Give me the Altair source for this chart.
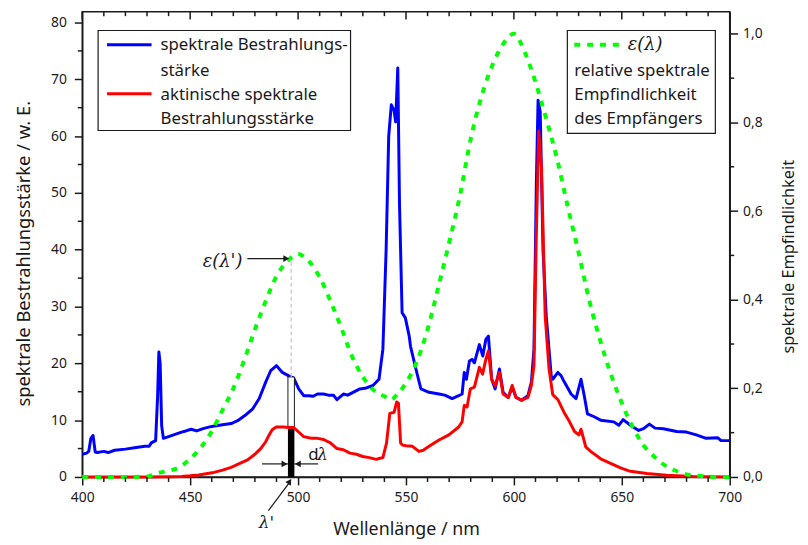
import altair as alt
import numpy as np
import pandas as pd

# ---------------- data ----------------
blue_wl = [400, 402, 403, 404, 405, 406, 407, 410, 412, 415,
           420, 425, 429, 431, 432, 434, 434.9, 435.5, 436.1, 436.8, 437.6,
           440, 443, 446, 448, 450.5, 453, 456, 460, 465,
           469, 472, 476, 479, 482, 485, 487.3, 490, 492.7, 495.7,
           498, 500.3, 502.6, 505, 507, 509, 511.8, 514, 516.4, 518,
           521, 523, 525.5, 528.6, 531, 534.7, 537.5, 539.3, 540.8, 542,
           543.2, 544.5, 545.2, 546.2, 547, 548.2, 549.7, 551.5, 552.1, 554.6,
           556.9, 560.7, 565.3, 568, 571.4, 574.4, 576, 577, 578, 579.4,
           580.6, 581.7, 584, 585.6, 587, 588.2, 589.7, 591.3, 593.3, 595,
           597.4, 599.2, 601, 603.5, 606.5, 608.1, 609.3, 610.4, 611.2, 612.2,
           613.5, 615, 617.3, 618, 620.4, 621.9, 623.4, 626.5, 628.8, 631.1,
           632.6, 634.1, 637.2, 640.2, 646.3, 648.6, 650.6, 654, 657.8, 660.1,
           662.8, 665.4, 669.3, 675.4, 680, 684.5, 689.1, 694.5, 696, 700]
blue_val = [4.0, 4.2, 4.5, 6.8, 7.3, 4.4, 4.3, 4.5, 4.3, 4.7,
            4.9, 5.2, 5.4, 5.4, 6.0, 6.4, 14.0, 22.0, 20.0, 9.0, 6.8,
            7.1, 7.5, 7.9, 8.1, 8.4, 8.1, 8.5, 8.9, 9.2,
            9.4, 9.9, 11.0, 12.0, 13.8, 16.7, 18.7, 19.6, 18.4, 17.8,
            17.4, 15.5, 14.3, 14.3, 14.2, 14.6, 14.6, 14.4, 14.4, 13.6,
            14.6, 14.4, 14.9, 15.5, 15.6, 16.1, 17.2, 22.5, 40.0, 60.0,
            65.5, 64.5, 62.5, 72.0, 48.0, 28.9, 28.0, 24.8, 23.0, 19.0,
            15.5, 14.9, 14.6, 14.4, 13.8, 14.3, 14.6, 18.4, 17.2, 20.4,
            20.7, 20.1, 23.3, 21.3, 24.2, 24.8, 17.2, 15.5, 19.0, 14.9,
            14.0, 15.8, 14.0, 13.5, 14.3, 16.7, 22.5, 51.5, 66.3, 64.3,
            39.9, 28.3, 17.8, 17.2, 18.4, 17.8, 16.7, 14.6, 13.8, 17.2,
            14.3, 11.1, 10.6, 10.0, 9.7, 9.1, 10.1, 9.1, 8.2, 8.5,
            9.3, 8.6, 8.5, 8.0, 7.9, 7.4, 6.8, 6.9, 6.4, 6.4]

red_wl = [400, 430, 440, 446, 450, 454, 458, 461, 465, 469,
          472, 476.6, 480, 482.7, 485, 486.6, 488, 489.9, 493, 496,
          498, 500, 502.6, 504, 506.4, 509, 511.8, 515, 518, 521,
          524, 527, 530, 533, 536.2, 538, 539.3, 541, 542.5, 544.5,
          545.7, 546.5, 547.5, 548.5, 550, 553, 556, 558, 560.7, 565.3,
          569.9, 574.4, 576, 577, 578.3, 579.8, 581.7, 584, 585.5, 587,
          588.2, 589.7, 591.3, 593.3, 595, 597.4, 599.2, 601, 603.5, 606.5,
          608.1, 609.3, 610.4, 611.5, 612.8, 614.5, 616.3, 618, 620.4, 623.2,
          625.8, 628.1, 630.1, 631.1, 633.3, 635.6, 640.2, 644.8, 649.4, 654,
          661.6, 670.8, 683, 700]
red_val = [0.0, 0.0, 0.05, 0.1, 0.2, 0.35, 0.6, 0.8, 1.2, 1.7,
           2.2, 3.0, 4.0, 5.0, 6.2, 7.4, 8.3, 8.8, 8.8, 8.7,
           8.7, 8.0, 7.1, 7.0, 6.8, 6.8, 6.6, 6.0, 5.0, 4.8,
           4.2, 4.0, 3.6, 3.4, 3.1, 3.3, 3.4, 6.0, 11.2, 11.4,
           13.2, 13.0, 6.0, 5.6, 5.5, 5.4, 4.5, 4.7, 5.4, 6.5,
           7.4, 8.8, 9.7, 12.6, 12.3, 15.5, 15.8, 19.3, 18.1, 20.7,
           22.2, 17.2, 16.1, 18.4, 14.6, 14.0, 16.1, 14.0, 13.5, 14.0,
           16.1, 19.6, 42.8, 60.8, 54.4, 28.3, 19.0, 14.5, 13.6, 11.4,
           9.7, 8.0, 7.4, 8.4, 5.3, 4.5, 3.2, 2.4, 1.6, 1.0,
           0.6, 0.3, 0.1, 0.0]

eps_wl = [400, 410, 420, 430, 435, 440, 445, 450, 455, 460,
          465, 470, 475, 480, 485, 490, 495, 500, 505, 510,
          515, 520, 525, 530, 535, 540, 543, 546, 550, 555,
          560, 565, 570, 575, 580, 585, 590, 595, 600, 605,
          610, 615, 620, 625, 630, 635, 640, 645, 650, 655,
          660, 665, 670, 675, 680, 685, 690, 695, 700]
eps_val = [0.0, 0.0, 0.0, 0.001, 0.009, 0.014, 0.022, 0.041, 0.067, 0.103,
           0.151, 0.200, 0.263, 0.333, 0.397, 0.453, 0.487, 0.503, 0.487, 0.451,
           0.397, 0.337, 0.272, 0.226, 0.196, 0.182, 0.174, 0.187, 0.212, 0.260,
           0.333, 0.429, 0.529, 0.635, 0.763, 0.859, 0.929, 0.977, 1.0, 0.959,
           0.891, 0.808, 0.718, 0.609, 0.506, 0.397, 0.308, 0.231, 0.167, 0.113,
           0.072, 0.046, 0.026, 0.014, 0.006, 0.003, 0.001, 0.0, 0.0]

x_major = [400, 450, 500, 550, 600, 650, 700]
x_minor = [t for t in range(400, 701, 10) if t not in x_major]
yl_major = [0, 10, 20, 30, 40, 50, 60, 70, 80]
yl_minor = [5, 15, 25, 35, 45, 55, 65, 75]
yr_major = [0.0, 0.2, 0.4, 0.6, 0.8, 1.0]
yr_minor = [0.1, 0.3, 0.5, 0.7, 0.9]

legend_left = ["spektrale Bestrahlungs-", "stärke", "aktinische spektrale", "Bestrahlungsstärke"]
legend_right = ["relative spektrale", "Empfindlichkeit", "des Empfängers"]

LAM_P = 496.8      # lambda'
D_LAM = 3.0        # d lambda
# ---------------------------------------------------------------

FONT = "Noto Sans"
MATH = "DejaVu Serif"
INK = "#1a1a1a"
BLUE = "#0000ff"
RED = "#ff0000"
GREEN = "#00ff00"

W, H = 654, 470
Y_MAX = 81.9
R_MAX = 1.05
RATIO = Y_MAX / R_MAX

x_scale = alt.Scale(domain=[400, 700], nice=False, zero=False)
yl_scale = alt.Scale(domain=[0, Y_MAX], nice=False)
yr_scale = alt.Scale(domain=[0, R_MAX], nice=False)

df_blue = pd.DataFrame({"wl": blue_wl, "v": blue_val})
df_red = pd.DataFrame({"wl": red_wl, "v": red_val})
df_eps = pd.DataFrame({"wl": eps_wl, "e": eps_val})

blue_at = float(np.interp(LAM_P, blue_wl, blue_val))
red_at = float(np.interp(LAM_P, red_wl, red_val))
eps_at = float(np.interp(LAM_P, eps_wl, eps_val))

ann = pd.DataFrame({
    "lam": [LAM_P], "lo": [LAM_P - D_LAM / 2], "hi": [LAM_P + D_LAM / 2],
    "zero": [0.0], "blue": [blue_at], "red": [red_at], "eps": [eps_at],
    "eps_left": [eps_at * RATIO],
    "al": [LAM_P - D_LAM / 2 - 12], "ar": [LAM_P + D_LAM / 2 + 11], "dly": [2.3],
    "ea": [476.5],
})
one = pd.DataFrame({"k": [0]})

# the same x axis definition is given to every layer so the shared axis merges cleanly
x_axis = alt.Axis(
    orient="bottom", title="Wellenlänge / nm", values=x_major, tickSize=8,
    labelPadding=6, labelOverlap=False, labelFlush=False,
    titleX=W / 2, titleY=53, titleBaseline="middle", titleAlign="center",
    titleFontSize=18,
)
yl_axis = alt.Axis(
    orient="left", title="spektrale Bestrahlungsstärke / w. E.", values=yl_major, tickSize=8,
    labelPadding=8, labelOverlap=False, labelFlush=False,
    titleX=-59, titleY=244, titleAngle=270, titleBaseline="middle", titleAlign="center",
    titleFontSize=18.5,
)
yr_axis = alt.Axis(
    orient="right", title="spektrale Empfindlichkeit", values=yr_major, tickSize=8,
    labelExpr="replace(format(datum.value, '.1f'), '.', ',')",
    labelPadding=5, labelOverlap=False, labelFlush=False,
    titleX=59, titleY=247, titleAngle=270, titleBaseline="middle", titleAlign="center",
    titleFontSize=16.5,
)


def X(f):
    return alt.X(f, scale=x_scale, axis=x_axis)


def YL(f):
    return alt.Y(f, scale=yl_scale, axis=None)


def YR(f):
    return alt.Y(f, scale=yr_scale, axis=None)


def txt(s, x, y, font=FONT, size=17, style="normal", align="left"):
    return alt.Chart(one).mark_text(
        font=font, fontSize=size, fontStyle=style, align=align,
        baseline="middle", color=INK,
    ).encode(x=alt.value(x), y=alt.value(y), text=alt.value(s))


# ----- main series -----
blue_line = alt.Chart(df_blue).mark_line(color=BLUE, strokeWidth=3, strokeJoin="round").encode(
    x=X("wl:Q"), y=alt.Y("v:Q", scale=yl_scale, axis=yl_axis))
red_line = alt.Chart(df_red).mark_line(color=RED, strokeWidth=3, strokeJoin="round").encode(
    x=X("wl:Q"), y=YL("v:Q"))
eps_line = alt.Chart(df_eps).mark_line(color=GREEN, strokeWidth=4, strokeDash=[6, 7],
                                       interpolate="monotone").encode(
    x=X("wl:Q"), y=alt.Y("e:Q", scale=yr_scale, axis=yr_axis))

# ----- bar at lambda' and its annotations -----
bar_black = alt.Chart(ann).mark_rect(color="black").encode(
    x=X("lo:Q"), x2="hi:Q", y=YL("zero:Q"), y2="red:Q")
bar_white = alt.Chart(ann).mark_rect(fill="white", stroke=INK, strokeWidth=1).encode(
    x=X("lo:Q"), x2="hi:Q", y=YL("red:Q"), y2="blue:Q")
dashed = alt.Chart(ann).mark_rule(color="#c4c4c4", strokeWidth=1.2, strokeDash=[4, 3]).encode(
    x=X("lam:Q"), y=YL("blue:Q"), y2="eps_left:Q")

dl_left = alt.Chart(ann).mark_rule(color=INK, strokeWidth=1.2).encode(
    x=X("al:Q"), x2="lo:Q", y=YL("dly:Q"))
dl_right = alt.Chart(ann).mark_rule(color=INK, strokeWidth=1.2).encode(
    x=X("hi:Q"), x2="ar:Q", y=YL("dly:Q"))
dl_head_l = alt.Chart(ann).mark_point(shape="triangle-right", filled=True, size=45, color=INK,
                                      opacity=1, xOffset=-3.5).encode(x=X("lo:Q"), y=YL("dly:Q"))
dl_head_r = alt.Chart(ann).mark_point(shape="triangle-left", filled=True, size=45, color=INK,
                                      opacity=1, xOffset=3.5).encode(x=X("hi:Q"), y=YL("dly:Q"))
dl_d = alt.Chart(ann).mark_text(font=FONT, fontSize=17, align="left", baseline="middle",
                                color=INK, dx=14, dy=-9).encode(
    x=X("hi:Q"), y=YL("dly:Q"), text=alt.value("d"))
dl_l = alt.Chart(ann).mark_text(font=MATH, fontSize=17, fontStyle="italic", align="left",
                                baseline="middle", color=INK, dx=23, dy=-9).encode(
    x=X("hi:Q"), y=YL("dly:Q"), text=alt.value("λ"))

lp_arrow = alt.Chart(ann).mark_rule(color=INK, strokeWidth=1.2, xOffset=-23, yOffset=34,
                                    x2Offset=-2, y2Offset=6).encode(
    x=X("lam:Q"), x2="lam:Q", y=YL("zero:Q"), y2="zero:Q")
lp_head = alt.Chart(ann).mark_point(shape="triangle-up", filled=True, size=45, color=INK,
                                    opacity=1, angle=34, xOffset=-1.5, yOffset=4.5).encode(
    x=X("lam:Q"), y=YL("zero:Q"))
lp_text = alt.Chart(ann).mark_text(font=MATH, fontSize=17, fontStyle="italic", align="center",
                                   baseline="middle", color=INK, dx=-25, dy=47).encode(
    x=X("lam:Q"), y=YL("zero:Q"), text=alt.value("λ'"))

eps_arrow = alt.Chart(ann).mark_rule(color=INK, strokeWidth=1.2, x2Offset=-6).encode(
    x=X("ea:Q"), x2="lam:Q", y=YR("eps:Q"))
eps_head = alt.Chart(ann).mark_point(shape="triangle-right", filled=True, size=45, color=INK,
                                     opacity=1, xOffset=-5).encode(x=X("lam:Q"), y=YR("eps:Q"))
eps_text = alt.Chart(ann).mark_text(font=MATH, fontSize=18, fontStyle="italic", align="right",
                                    baseline="middle", color=INK, dx=-5, dy=3).encode(
    x=X("ea:Q"), y=YR("eps:Q"), text=alt.value("ε(λ')"))

# ----- minor ticks and the inward ticks of the top frame -----
tick_style = dict(color=INK, strokeWidth=1.5)
top_major = alt.Chart(pd.DataFrame({"t": x_major})).mark_rule(**tick_style).encode(
    x=X("t:Q"), y=alt.value(0), y2=alt.value(8))
top_minor = alt.Chart(pd.DataFrame({"t": x_minor})).mark_rule(**tick_style).encode(
    x=X("t:Q"), y=alt.value(0), y2=alt.value(4.5))
bot_minor = alt.Chart(pd.DataFrame({"t": x_minor})).mark_rule(**tick_style).encode(
    x=X("t:Q"), y=alt.value(H), y2=alt.value(H + 5))
left_minor = alt.Chart(pd.DataFrame({"t": yl_minor})).mark_rule(**tick_style).encode(
    y=YL("t:Q"), x=alt.value(0), x2=alt.value(-4.5))
right_minor = alt.Chart(pd.DataFrame({"t": yr_minor})).mark_rule(**tick_style).encode(
    y=YR("t:Q"), x=alt.value(W), x2=alt.value(W + 4.5))

# ----- legends -----
leg_l_box = alt.Chart(one).mark_rect(fill="white", stroke=INK, strokeWidth=1.2).encode(
    x=alt.value(16), x2=alt.value(271), y=alt.value(19), y2=alt.value(120))
leg_l_blue = alt.Chart(one).mark_rule(color=BLUE, strokeWidth=3).encode(
    x=alt.value(25), x2=alt.value(70), y=alt.value(33.5))
leg_l_red = alt.Chart(one).mark_rule(color=RED, strokeWidth=3).encode(
    x=alt.value(25), x2=alt.value(70), y=alt.value(83))
leg_l_texts = [txt(s, 79, y) for s, y in zip(legend_left, [34, 59.5, 84.5, 108.5])]

leg_r_box = alt.Chart(one).mark_rect(fill="white", stroke=INK, strokeWidth=1.2).encode(
    x=alt.value(490), x2=alt.value(639.5), y=alt.value(19), y2=alt.value(123))
leg_r_green = alt.Chart(one).mark_rule(color=GREEN, strokeWidth=4, strokeDash=[6, 7]).encode(
    x=alt.value(497), x2=alt.value(544), y=alt.value(33.5))
leg_r_eps = txt("ε(λ)", 551, 34, font=MATH, size=18, style="italic")
leg_r_texts = [txt(s, 497, y) for s, y in zip(legend_right, [59.5, 84.5, 108.5])]

chart = alt.layer(
    blue_line, bar_black, bar_white, dashed, red_line, eps_line,
    dl_left, dl_right, dl_head_l, dl_head_r, dl_d, dl_l,
    lp_arrow, lp_head, lp_text, eps_arrow, eps_head, eps_text,
    top_major, top_minor, bot_minor, left_minor, right_minor,
    leg_l_box, leg_l_blue, leg_l_red, *leg_l_texts,
    leg_r_box, leg_r_green, leg_r_eps, *leg_r_texts,
).resolve_scale(y="independent").properties(
    width=W, height=H,
    padding={"left": 75, "top": 1, "right": 71, "bottom": 66},
    autosize=alt.AutoSizeParams(type="none"),
    background="white",
).configure_view(
    stroke=INK, strokeWidth=1.5,
).configure_axis(
    domainColor=INK, domainWidth=1.5, tickColor=INK, tickWidth=1.5,
    labelColor=INK, labelFont=FONT, labelFontSize=14,
    titleFont=FONT, titleFontWeight="normal", titleColor=INK,
    grid=False,
)

chart.save("out.html", embed_options={"renderer": "svg", "actions": False})
